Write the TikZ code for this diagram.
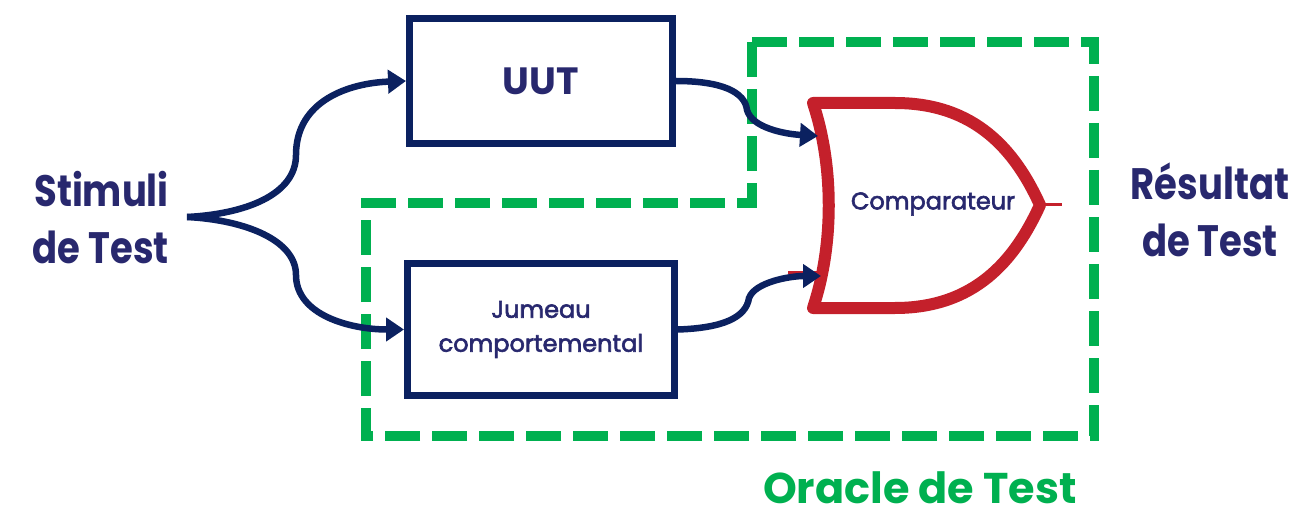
\documentclass[tikz,border=0pt]{standalone}
\usepackage{fontspec}
\setmainfont{Poppins}
\newfontfamily\narrowfont{Poppins}[FakeStretch=0.84]
\newfontfamily\heavyfont{Poppins}[FakeBold=2.5]
\usetikzlibrary{arrows.meta}
\definecolor{wirenavy}{HTML}{0B2160}
\definecolor{labelnavy}{HTML}{28286E}
\definecolor{gatered}{HTML}{C4202B}
\definecolor{oraclegreen}{HTML}{00B050}
\begin{document}
\begin{tikzpicture}[x=1pt,y=-1pt,
  blockbox/.style={draw=wirenavy, line width=7pt, inner sep=0pt, text=labelnavy, align=center},
  wire/.style={draw=wirenavy, line width=6.5pt, -{Triangle[length=18pt,width=23pt]}},
  biglabel/.style={text=labelnavy, font=\narrowfont\fontsize{44}{57}\selectfont\bfseries, inner sep=0pt},
  oracleframe/.style={draw=oraclegreen, line width=10pt, dash pattern=on 35pt off 12pt},
]
\useasboundingbox (0,0) rectangle (1299,513);

% oracle frame
\draw[oracleframe] (752,42) -- (1094,42) -- (1094,436) -- (366,436) -- (366,203) -- (752,203) -- cycle;

% blocks
\node[blockbox, minimum width=263pt, minimum height=125pt,
      font=\fontsize{38}{46}\selectfont\bfseries] (uut) at (541,81) {UUT};
\node[blockbox, minimum width=267pt, minimum height=132pt,
      font=\heavyfont\fontsize{24}{34}\selectfont] (twin) at (541,329.5) {Jumeau\\comportemental};

% comparator gate
\coordinate (gin1) at (818,136);
\coordinate (gin2) at (821,276);
\coordinate (gtip) at (1040,205);
\coordinate (gout) at (1062,205);
\draw[gatered, line width=3pt] (788,273) -- (822,273);
\draw[gatered, line width=12pt, line join=round]
  (813,103) -- (895,103) .. controls (975,103) and (1015,150) .. (gtip)
  .. controls (1015,260) and (975,308) .. (895,308) -- (813,308)
  .. controls (834,245) and (834,166) .. (813,103) -- cycle;
\draw[gatered, line width=3pt] (gtip) -- (gout);
\node[text=labelnavy, font=\heavyfont\fontsize{24}{28}\selectfont, inner sep=0pt] (cmp) at (933,204) {Comparateur};

% labels
\coordinate (src) at (187,217);
\node[biglabel, align=right, anchor=east] (stim) at (169,218) {Stimuli\\de Test};
\node[biglabel, align=center] (res) at (1210,210) {Résultat\\de Test};
\node[text=oraclegreen, font=\fontsize{43}{52}\selectfont\bfseries, inner sep=0pt, anchor=base] (oracle) at (920,503) {Oracle de Test};

% stimulus fan-out
\draw[wire] (src) .. controls (245,214) and (296,195) .. (296,155)
  .. controls (296,100) and (350,83) .. (uut.west);
\draw[wire] (src) .. controls (245,220) and (296,240) .. (296,275)
  .. controls (296,315) and (350,329.5) .. (twin.west);

% outputs into the comparator
\draw[wire] (uut.east) .. controls (722,81) and (745,92) .. (747,110)
  .. controls (752,128) and (785,134) .. (gin1);
\draw[wire] (twin.east) .. controls (722,328) and (746,318) .. (749,298)
  .. controls (755,282) and (790,276) .. (gin2);
\end{tikzpicture}
\end{document}
